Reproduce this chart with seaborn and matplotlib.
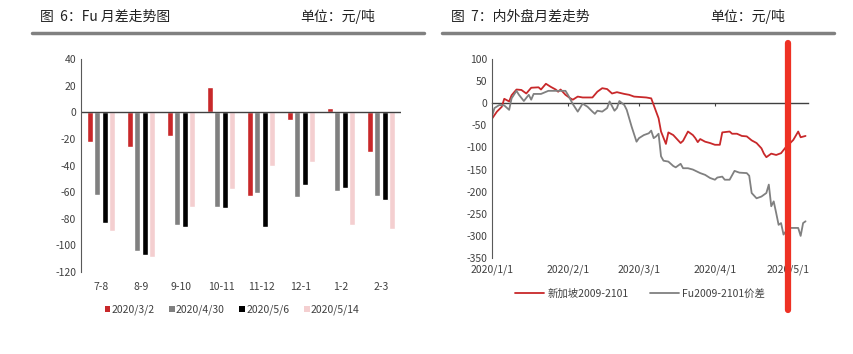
import matplotlib
matplotlib.use("Agg")
import matplotlib.pyplot as plt
from matplotlib.patches import Patch
from matplotlib.lines import Line2D
import numpy as np
import pandas as pd
import seaborn as sns

# ---- data: Fu spreads by contract pair (left) ----
spreads = ['7-8', '8-9', '9-10', '10-11', '11-12', '12-1', '1-2', '2-3']
snap_dates = ['2020/3/2', '2020/4/30', '2020/5/6', '2020/5/14']
v_0302 = [-22, -26, -18, 19, -63, -6, 3, -30]
v_0430 = [-62, -104, -85, -71, -61, -64, -59, -63]
v_0506 = [-83, -107, -86, -72, -86, -55, -57, -66]
v_0514 = [-89, -109, -71, -58, -40, -37, -85, -88]
bar_colors = ['#c8282a', '#808080', '#000000', '#f4cfd0']

# ---- data: inner/outer spread (right) ----
sg_dates = ['2020-01-01', '2020-01-03', '2020-01-05', '2020-01-06', '2020-01-08', '2020-01-09',
            '2020-01-11', '2020-01-13', '2020-01-15', '2020-01-17', '2020-01-20', '2020-01-21',
            '2020-01-23', '2020-01-25', '2020-01-27', '2020-01-28', '2020-01-29', '2020-01-31',
            '2020-02-02', '2020-02-03', '2020-02-05', '2020-02-07', '2020-02-11', '2020-02-13',
            '2020-02-15', '2020-02-17', '2020-02-19', '2020-02-21', '2020-02-24', '2020-02-26',
            '2020-02-28', '2020-03-04', '2020-03-06', '2020-03-09', '2020-03-10', '2020-03-12',
            '2020-03-13', '2020-03-15', '2020-03-16', '2020-03-18', '2020-03-19', '2020-03-21',
            '2020-03-23', '2020-03-24', '2020-03-25', '2020-03-26', '2020-03-28', '2020-03-30',
            '2020-04-01', '2020-04-03', '2020-04-04', '2020-04-07', '2020-04-08', '2020-04-10',
            '2020-04-12', '2020-04-14', '2020-04-16', '2020-04-18', '2020-04-20', '2020-04-21',
            '2020-04-22', '2020-04-24', '2020-04-26', '2020-04-28', '2020-04-30', '2020-05-01',
            '2020-05-03', '2020-05-05', '2020-05-06', '2020-05-08']
sg_vals = [-35, -19, -8, 10, 4, 18,
           31, 30, 22, 35, 36, 31,
           44, 37, 31, 26, 31, 19,
           11, 8, 15, 13, 13, 26,
           34, 32, 22, 25, 21, 19,
           15, 13, 11, -34, -64, -92,
           -66, -72, -78, -90, -85, -64,
           -72, -79, -88, -81, -87, -90,
           -94, -94, -66, -64, -69, -69,
           -74, -75, -84, -90, -102, -114,
           -122, -114, -117, -113, -99, -94,
           -83, -64, -77, -74]

fu_dates = ['2020-01-01', '2020-01-02', '2020-01-04', '2020-01-06', '2020-01-08', '2020-01-09',
            '2020-01-11', '2020-01-12', '2020-01-14', '2020-01-16', '2020-01-17', '2020-01-18',
            '2020-01-21', '2020-01-24', '2020-01-31', '2020-02-01', '2020-02-03', '2020-02-05',
            '2020-02-07', '2020-02-09', '2020-02-11', '2020-02-12', '2020-02-13', '2020-02-15',
            '2020-02-17', '2020-02-18', '2020-02-20', '2020-02-21', '2020-02-22', '2020-02-24',
            '2020-02-25', '2020-02-27', '2020-02-29', '2020-03-01', '2020-03-03', '2020-03-05',
            '2020-03-06', '2020-03-07', '2020-03-08', '2020-03-09', '2020-03-10', '2020-03-11',
            '2020-03-13', '2020-03-15', '2020-03-16', '2020-03-18', '2020-03-19', '2020-03-21',
            '2020-03-23', '2020-03-26', '2020-03-28', '2020-03-30', '2020-04-01', '2020-04-02',
            '2020-04-04', '2020-04-05', '2020-04-07', '2020-04-09', '2020-04-11', '2020-04-14',
            '2020-04-15', '2020-04-16', '2020-04-18', '2020-04-20', '2020-04-22', '2020-04-23',
            '2020-04-24', '2020-04-25', '2020-04-26', '2020-04-27', '2020-04-28', '2020-04-29',
            '2020-05-01', '2020-05-05', '2020-05-06', '2020-05-07', '2020-05-08']
fu_vals = [-30, -11, -4, -5, -15, 11,
           28, 19, 5, 19, 8, 21,
           21, 28, 28, 19, -2, -19,
           -1, -8, -19, -24, -17, -19,
           -11, 4, -17, -11, 5, -4,
           -15, -53, -87, -79, -72, -68,
           -62, -79, -75, -69, -120, -130,
           -132, -142, -145, -137, -147, -147,
           -150, -158, -162, -169, -173, -168,
           -166, -173, -173, -153, -157, -158,
           -164, -203, -215, -211, -203, -184,
           -233, -222, -248, -275, -271, -297,
           -282, -282, -300, -271, -267]
month_ticks = ['2020-01-01', '2020-02-01', '2020-03-01', '2020-04-01', '2020-05-01']
month_labels = ['2020/1/1', '2020/2/1', '2020/3/1', '2020/4/1', '2020/5/1']
marker_date = '2020-05-01'

sns.set_style('white')
plt.rcParams['font.family'] = ['Noto Sans CJK SC', 'DejaVu Sans']
plt.rcParams['axes.unicode_minus'] = False
tick_color = '#404040'
fs = 7.5
hfs = 10

fig = plt.figure(figsize=(8.54, 3.54), dpi=100)

# headers
fig.text(40 / 854, 1 - 17 / 354, '图  6：Fu 月差走势图', fontsize=hfs, va='center', color='#222222')
fig.text(300 / 854, 1 - 17 / 354, '单位：元/吨', fontsize=hfs, va='center', color='#222222')
fig.text(451 / 854, 1 - 17 / 354, '图  7：内外盘月差走势', fontsize=hfs, va='center', color='#222222')
fig.text(710 / 854, 1 - 17 / 354, '单位：元/吨', fontsize=hfs, va='center', color='#222222')
for x0, x1 in [(32, 424), (442, 834)]:
    fig.add_artist(Line2D([x0 / 854, x1 / 854], [1 - 33 / 354] * 2, color='#808080', lw=2.5))

# ---- left: grouped bars ----
ax1 = fig.add_axes([81 / 854, 1 - 272 / 354, 320 / 854, 213 / 354])
df = pd.DataFrame({
    'spread': spreads * 4,
    'date': [d for d in snap_dates for _ in spreads],
    'value': v_0302 + v_0430 + v_0506 + v_0514,
})
sns.barplot(data=df, x='spread', y='value', hue='date', order=spreads, hue_order=snap_dates,
            palette=bar_colors, width=0.74, gap=0.16, saturation=1, legend=False, ax=ax1)
ax1.set_ylim(-120, 40)
ax1.set_yticks(np.arange(-120, 41, 20))
ax1.set_xlim(-0.5, len(spreads) - 0.5)
ax1.axhline(0, color=tick_color, lw=1)
ax1.set_xlabel('')
ax1.set_ylabel('')
for s in ['top', 'right', 'bottom']:
    ax1.spines[s].set_visible(False)
ax1.spines['left'].set_color('#595959')
ax1.tick_params(axis='both', length=0, labelsize=fs, colors=tick_color)
ax1.tick_params(axis='x', pad=7)
handles = [Patch(facecolor=c, edgecolor='none', label=l) for c, l in zip(bar_colors, snap_dates)]
fig.legend(handles=handles, loc='center', bbox_to_anchor=(232 / 854, 1 - 310 / 354), ncol=4,
           frameon=False, fontsize=fs, handlelength=0.55, handleheight=0.55, handletextpad=0.1,
           columnspacing=1.4, labelcolor=tick_color)

# ---- right: lines ----
ax2 = fig.add_axes([492 / 854, 1 - 258 / 354, 316 / 854, 199 / 354])
sg = pd.DataFrame({'date': pd.to_datetime(sg_dates), 'value': sg_vals})
fu = pd.DataFrame({'date': pd.to_datetime(fu_dates), 'value': fu_vals})
sns.lineplot(data=sg, x='date', y='value', color='#c8282a', lw=1.3, ax=ax2, legend=False)
sns.lineplot(data=fu, x='date', y='value', color='#808080', lw=1.3, ax=ax2, legend=False)
ymin, ymax = -350, 100
ax2.set_ylim(ymin, ymax)
ax2.set_yticks(np.arange(-350, 101, 50))
ax2.set_xlim(pd.Timestamp('2020-01-01'), pd.Timestamp('2020-05-09'))
ax2.set_xticks(pd.to_datetime(month_ticks))
ax2.set_xticklabels(month_labels)
ax2.set_xlabel('')
ax2.set_ylabel('')
for s in ['top', 'right', 'bottom']:
    ax2.spines[s].set_visible(False)
ax2.spines['left'].set_color('#595959')
ax2.tick_params(axis='both', length=0, labelsize=fs, colors=tick_color)
ax2.tick_params(axis='x', pad=5)
# zero axis with small ticks
zero_frac = (0 - ymin) / (ymax - ymin)
sec = ax2.secondary_xaxis(zero_frac)
sec.set_xticks(pd.to_datetime(month_ticks[1:-1]))
sec.tick_params(direction='in', length=2.5, color=tick_color, labeltop=False, labelbottom=False)
for sp in sec.spines.values():
    sp.set_color(tick_color)
    sp.set_linewidth(1)
ax2.axvline(pd.Timestamp(marker_date), ymin=-0.26, ymax=1.08, clip_on=False, color='#ee3124', lw=4.5)
leg_handles = [Line2D([], [], color='#c8282a', lw=1.3), Line2D([], [], color='#808080', lw=1.3)]
fig.legend(handles=leg_handles, labels=['新加坡2009-2101', 'Fu2009-2101价差'], loc='center',
           bbox_to_anchor=(640 / 854, 1 - 294 / 354), ncol=2, frameon=False, fontsize=fs,
           handlelength=2.8, handletextpad=0.3, columnspacing=2.0, labelcolor=tick_color)

fig.savefig('out.png', dpi=100)
